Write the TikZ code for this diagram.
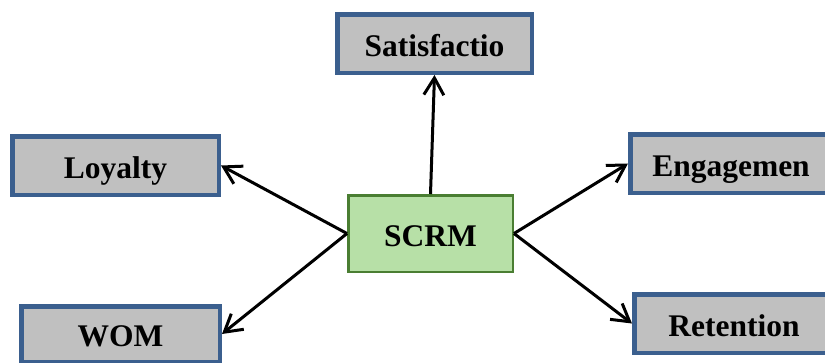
\documentclass[tikz,border=0pt]{standalone}
\usepackage{fontspec}
\setmainfont{Liberation Serif}[BoldFont={Liberation Serif Bold}]
\newfontfamily\boxfont{Liberation Serif Bold}
\usetikzlibrary{arrows.meta}
\definecolor{boxblue}{HTML}{3B5F8E}
\definecolor{boxgrey}{HTML}{C0C0C0}
\definecolor{scrmfill}{HTML}{B7E0A7}
\definecolor{scrmedge}{HTML}{4A7E32}
\tikzset{
  outbox/.style={draw=boxblue, fill=boxgrey, line width=4.5pt, inner sep=0pt,
    minimum height=58.5pt, text height=25pt, text depth=0pt,
    font=\boxfont\fontsize{31.5}{31.5}\selectfont},
  corebox/.style={draw=scrmedge, fill=scrmfill, line width=2.5pt, inner sep=0pt,
    minimum width=164.5pt, minimum height=76.5pt, text height=25pt, text depth=0pt,
    font=\boxfont\fontsize{31.5}{31.5}\selectfont},
  link/.style={draw=black, line width=3pt, -{Straight Barb[length=17pt,width=20pt]}}
}
\begin{document}
\begin{tikzpicture}[x=1pt,y=-1pt]
\useasboundingbox (0,0) rectangle (825,362);
\clip (0,0) rectangle (825,362);
\node[corebox] (scrm) at (430.5,233.5) {SCRM};
\node[outbox, minimum width=194.5pt] (sat) at (434.5,43.5) {Satisfactio};
\node[outbox, minimum width=206.5pt] (loy) at (115.5,165.5) {Loyalty};
\node[outbox, minimum width=201.5pt] (eng) at (731,163.5) {Engagemen};
\node[outbox, minimum width=199.5pt] (ret) at (734,323.5) {Retention};
\node[outbox, minimum width=198.5pt, minimum height=55.5pt] (wom) at (120.5,334) {WOM};
\draw[link] (scrm.north) -- (sat.south);
\draw[link] (scrm.west) -- (loy.east);
\draw[link] (scrm.west) -- (wom.east);
\draw[link] (scrm.east) -- (eng.west);
\draw[link] (scrm.east) -- (ret.west);
\end{tikzpicture}
\end{document}
